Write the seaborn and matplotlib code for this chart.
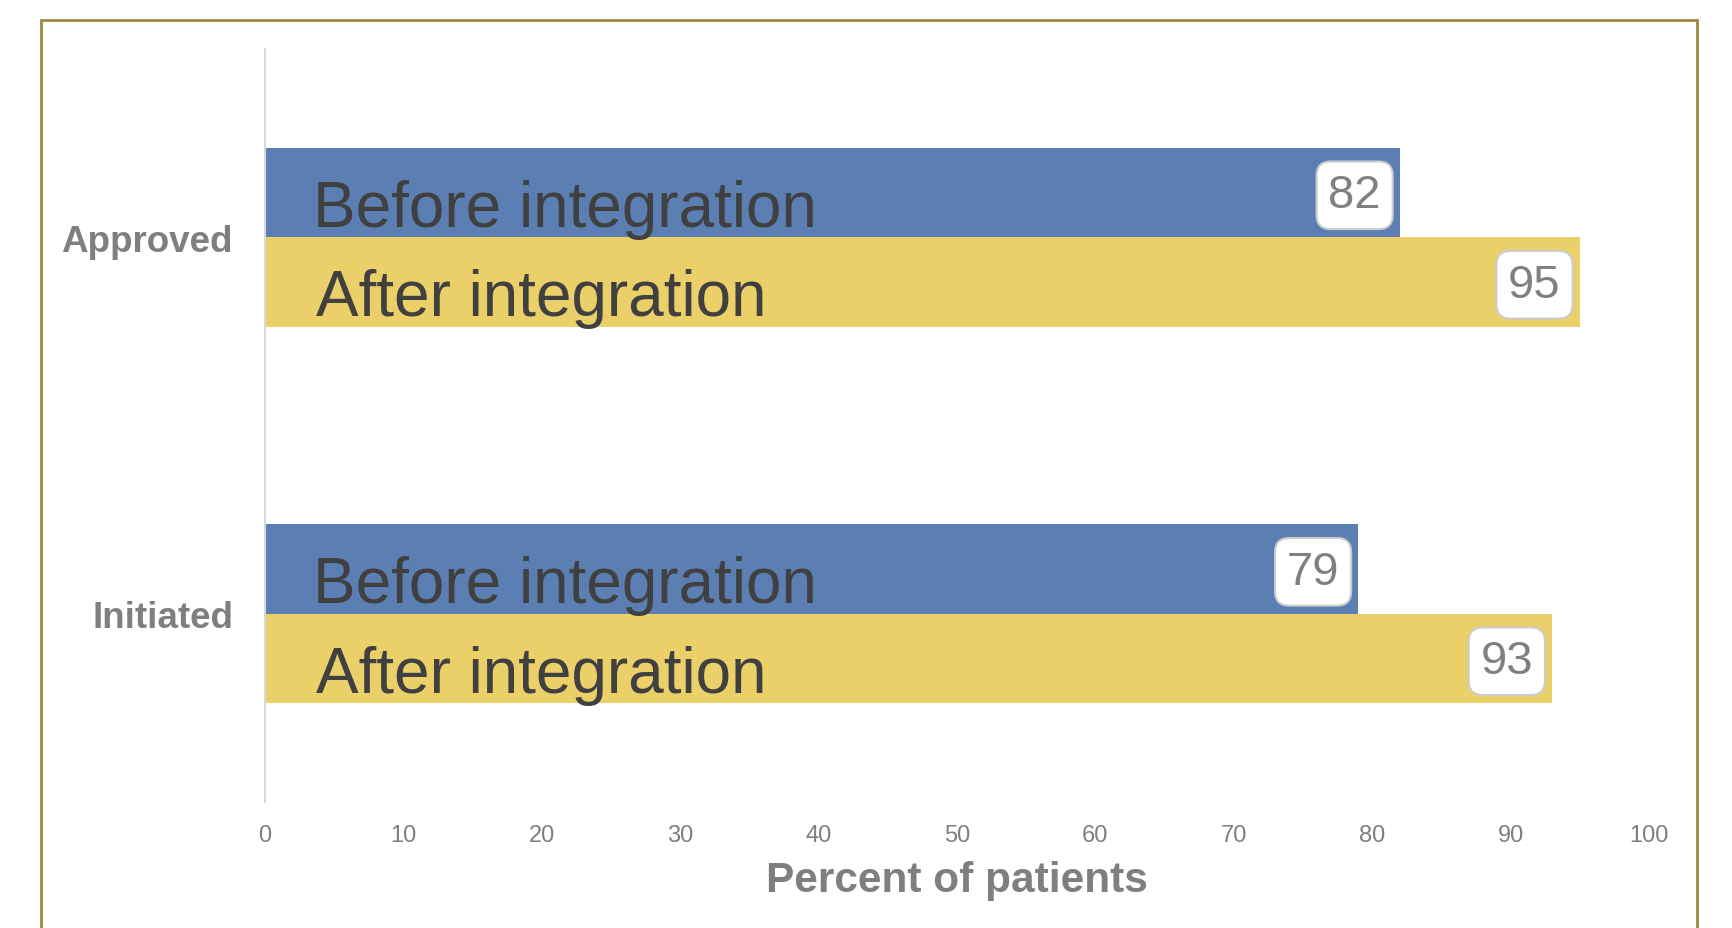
import matplotlib
matplotlib.use("Agg")
import matplotlib.pyplot as plt
import matplotlib.patches as mpatches
import seaborn as sns
import pandas as pd

categories = ["Approved", "Initiated"]
periods = ["Before integration", "After integration"]
before_values = [82, 79]
after_values = [95, 93]
x_ticks = [0, 10, 20, 30, 40, 50, 60, 70, 80, 90, 100]

rows = []
for c, b, a in zip(categories, before_values, after_values):
    rows.append({"category": c, "period": periods[0], "value": b})
    rows.append({"category": c, "period": periods[1], "value": a})
df = pd.DataFrame(rows)

sns.set_theme(style="white")
plt.rcParams["font.family"] = ["Liberation Sans", "DejaVu Sans"]

W, H, DPI = 1733, 929, 100
fig = plt.figure(figsize=(W / DPI, H / DPI), dpi=DPI)
ax = fig.add_axes([265 / W, 1 - 803 / H, 1384 / W, 753 / H])

palette = {periods[0]: "#5B7FB3", periods[1]: "#EBCF68"}
sns.barplot(data=df, y="category", x="value", hue="period", order=categories,
            hue_order=periods, palette=palette, orient="h", width=0.475,
            gap=0, saturation=1, linewidth=0, legend=False, ax=ax)

ax.set_xlim(0, 100)
ax.set_ylim(1.5, -0.5)
ax.set_xticks(x_ticks)
ax.set_xticklabels([str(t) for t in x_ticks])
ax.tick_params(axis="x", length=0, pad=16, labelsize=17, labelcolor="#7f7f7f")
ax.tick_params(axis="y", length=0, pad=23, labelsize=26.5, labelcolor="#7f7f7f")
for lab in ax.get_yticklabels():
    lab.set_fontweight("bold")
    lab.set_y(lab.get_position()[1])
ax.set_ylabel("")
ax.set_xlabel("Percent of patients", fontsize=30.5, fontweight="bold",
              color="#7f7f7f", labelpad=10)

for s in ["top", "right", "bottom"]:
    ax.spines[s].set_visible(False)
ax.spines["left"].set_color("#d9d9d9")
ax.spines["left"].set_linewidth(1.5)

half = 0.475 / 2
for i, c in enumerate(categories):
    for j, (p, vals) in enumerate(zip(periods, [before_values, after_values])):
        yc = i - half / 2 + j * half
        ax.text(3.5 + j * 0.15, yc + half / 2 - 0.03, p, fontsize=46,
                color="#404040", va="baseline", ha="left")
        ax.annotate(str(vals[i]), xy=(vals[i], yc), xytext=(-19 * 0.72, -2),
                    textcoords="offset points", ha="right", va="center",
                    fontsize=34, color="#808080",
                    bbox=dict(boxstyle="round,pad=0.25,rounding_size=0.3",
                              fc="white", ec="#cccccc", lw=1.5))

frame = mpatches.Rectangle((41 / W, -0.05), (1697 - 41) / W, 1 - 21 / H + 0.05,
                           transform=fig.transFigure, fill=False,
                           ec="#9E8840", lw=2, clip_on=False)
fig.patches.append(frame)

fig.savefig("out.png", dpi=DPI, facecolor="white")
